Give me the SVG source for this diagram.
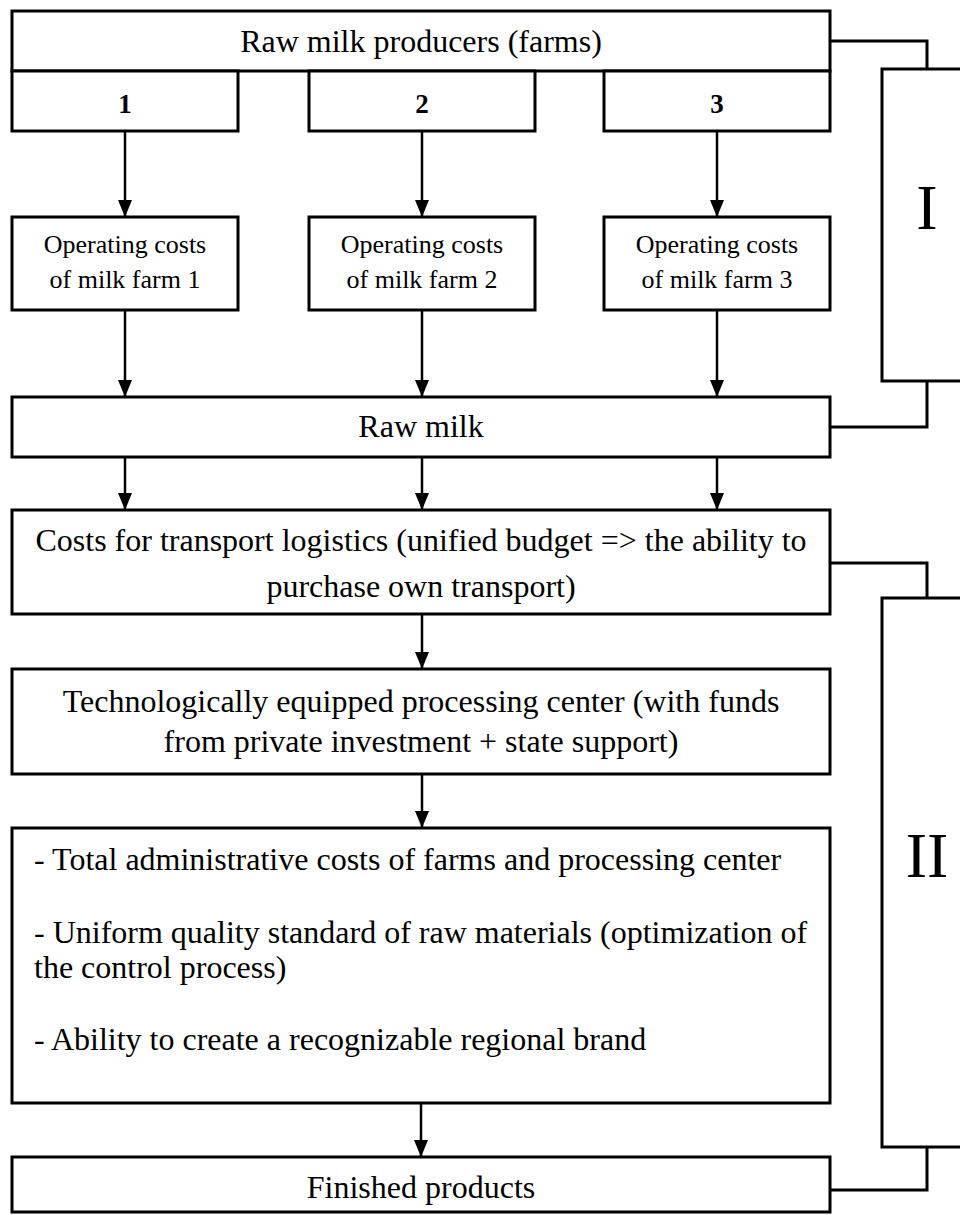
<svg xmlns="http://www.w3.org/2000/svg" width="960" height="1215" viewBox="0 0 960 1215">
<defs>
<style>
.box{fill:#fff;stroke:#000;stroke-width:3}
.br{fill:none;stroke:#000;stroke-width:3}
.c{fill:none;stroke:#000;stroke-width:2.5}
.t{font-family:"Liberation Serif","Times New Roman",serif;font-size:32px;fill:#000}
.s{font-family:"Liberation Serif","Times New Roman",serif;font-size:26px;fill:#000}
.d{font-family:"Liberation Serif","Times New Roman",serif;font-size:27px;font-weight:bold;fill:#000}
.r{font-family:"Liberation Serif","Times New Roman",serif;font-size:64px;fill:#000}
.m{text-anchor:middle}
</style>
<marker id="ah" markerUnits="userSpaceOnUse" markerWidth="17" markerHeight="14" refX="17" refY="7" orient="auto">
<path d="M0,0 L17,7 L0,14 z" fill="#000"/>
</marker>
</defs>
<rect width="960" height="1215" fill="#fff"/>

<g id="brackets">
<rect class="br" x="882" y="69" width="100" height="312"/>
<text class="r m" x="927" y="229">I</text>
<rect class="br" x="882" y="598" width="100" height="549"/>
<text class="r m" x="927" y="877">II</text>
</g>

<g id="producers">
<rect class="box" x="12" y="11" width="818" height="60"/>
<text class="t m" x="421" y="52">Raw milk producers (farms)</text>
</g>
<g id="farm1"><rect class="box" x="12" y="71" width="226" height="60"/><text class="d m" x="125" y="113">1</text></g>
<g id="farm2"><rect class="box" x="309" y="71" width="226" height="60"/><text class="d m" x="422" y="113">2</text></g>
<g id="farm3"><rect class="box" x="604" y="71" width="226" height="60"/><text class="d m" x="717" y="113">3</text></g>

<g id="ops1"><rect class="box" x="12" y="217" width="226" height="93"/><text class="s m" x="125" y="253">Operating costs</text><text class="s m" x="125" y="288">of milk farm 1</text></g>
<g id="ops2"><rect class="box" x="309" y="217" width="226" height="93"/><text class="s m" x="422" y="253">Operating costs</text><text class="s m" x="422" y="288">of milk farm 2</text></g>
<g id="ops3"><rect class="box" x="604" y="217" width="226" height="93"/><text class="s m" x="717" y="253">Operating costs</text><text class="s m" x="717" y="288">of milk farm 3</text></g>

<g id="rawmilk"><rect class="box" x="12" y="397" width="818" height="60"/><text class="t m" x="421" y="437">Raw milk</text></g>

<g id="transport"><rect class="box" x="12" y="510" width="818" height="104"/>
<text class="t m" x="421" y="551">Costs for transport logistics (unified budget =&gt; the ability to</text>
<text class="t m" x="421" y="597">purchase own transport)</text></g>

<g id="processing"><rect class="box" x="12" y="669" width="818" height="105"/>
<text class="t m" x="421" y="712">Technologically equipped processing center (with funds</text>
<text class="t m" x="421" y="752">from private investment + state support)</text></g>

<g id="benefits"><rect class="box" x="12" y="828" width="818" height="275"/>
<text class="t" x="34" y="870">- Total administrative costs of farms and processing center</text>
<text class="t" x="34" y="943">- Uniform quality standard of raw materials (optimization of</text>
<text class="t" x="34" y="978">the control process)</text>
<text class="t" x="34" y="1050">- Ability to create a recognizable regional brand</text></g>

<g id="finished"><rect class="box" x="12" y="1157" width="818" height="55"/><text class="t m" x="421" y="1198">Finished products</text></g>

<g id="connectors">
<line class="c" x1="125" y1="131" x2="125" y2="217" marker-end="url(#ah)"/>
<line class="c" x1="422" y1="131" x2="422" y2="217" marker-end="url(#ah)"/>
<line class="c" x1="717" y1="131" x2="717" y2="217" marker-end="url(#ah)"/>
<line class="c" x1="125" y1="310" x2="125" y2="397" marker-end="url(#ah)"/>
<line class="c" x1="422" y1="310" x2="422" y2="397" marker-end="url(#ah)"/>
<line class="c" x1="717" y1="310" x2="717" y2="397" marker-end="url(#ah)"/>
<line class="c" x1="125" y1="457" x2="125" y2="510" marker-end="url(#ah)"/>
<line class="c" x1="422" y1="457" x2="422" y2="510" marker-end="url(#ah)"/>
<line class="c" x1="717" y1="457" x2="717" y2="510" marker-end="url(#ah)"/>
<line class="c" x1="422" y1="614" x2="422" y2="669" marker-end="url(#ah)"/>
<line class="c" x1="422" y1="774" x2="422" y2="828" marker-end="url(#ah)"/>
<line class="c" x1="421" y1="1103" x2="421" y2="1157" marker-end="url(#ah)"/>
<polyline class="br" points="830,41 927,41 927,69"/>
<polyline class="br" points="830,427 927,427 927,381"/>
<polyline class="br" points="830,563 927,563 927,598"/>
<polyline class="br" points="830,1190 927,1190 927,1147"/>
</g>
</svg>
